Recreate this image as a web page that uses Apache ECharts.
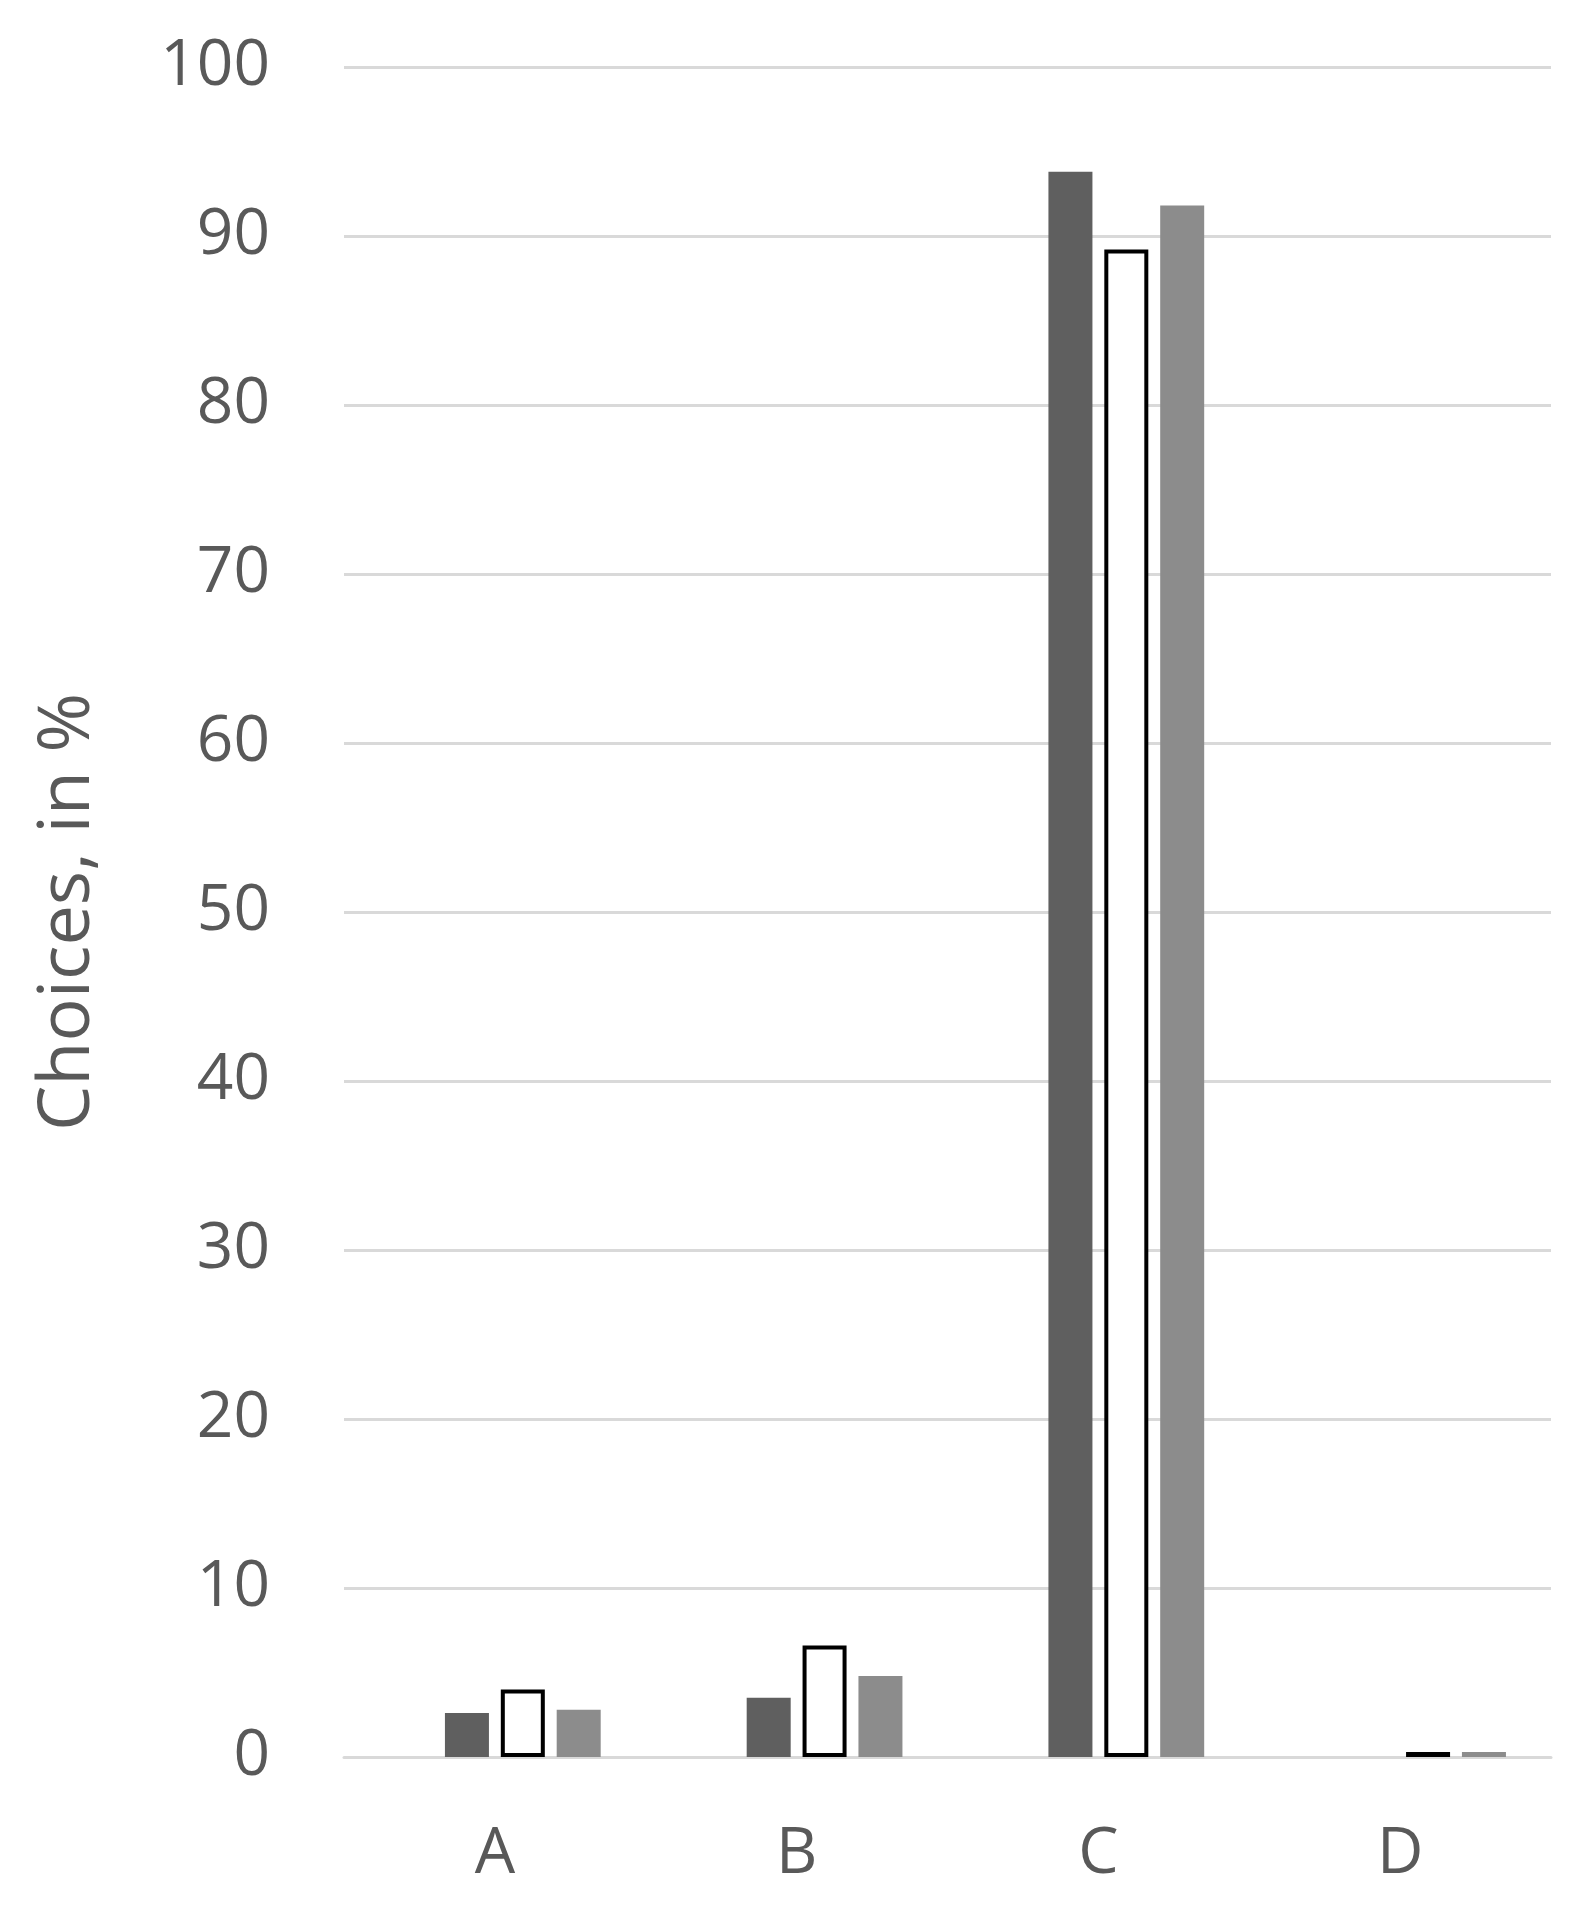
<!DOCTYPE html>
<html><head><meta charset="utf-8">
<script src="https://cdn.jsdelivr.net/npm/echarts@6/dist/echarts.min.js"></script>
<style>html,body{margin:0;padding:0;background:#fff}#c{width:1585px;height:1919px}</style>
</head><body><div id="c"></div>
<script>
const categories = ['A','B','C','D'];
const seriesEmpty = [null, null, null, null];
const seriesDark = [2.6, 3.5, 93.8, 0];
const seriesWhite = [4.0, 6.6, 89.2, 0.3];
const seriesGray = [2.8, 4.8, 91.8, 0.3];
const chart = echarts.init(document.getElementById('c'));
const font = 'Open Sans, Noto Sans, sans-serif';
chart.setOption({
  animation:false,
  grid:{left:344,right:34,top:67,bottom:162},
  xAxis:{type:'category',data:categories,
    axisLine:{lineStyle:{color:'#d9d9d9',width:3}},axisTick:{show:false},
    axisLabel:{color:'#595959',fontSize:64,fontFamily:font,margin:66}},
  yAxis:{type:'value',min:0,max:100,interval:10,
    name:'Choices, in %',nameLocation:'middle',nameGap:240,
    nameTextStyle:{color:'#595959',fontSize:72,fontFamily:font},
    axisLabel:{color:'#595959',fontSize:64,fontFamily:font,margin:74},
    splitLine:{lineStyle:{color:'#d9d9d9',width:3}}},
  series:[
    {type:'bar',data:seriesEmpty,barWidth:44,barGap:'27%'},
    {type:'bar',data:seriesDark,barWidth:44,barGap:'27%',itemStyle:{color:'#5f5f5f'}},
    {type:'bar',data:seriesWhite,barWidth:44,barGap:'27%',itemStyle:{color:'#fff',borderColor:'#000',borderWidth:4}},
    {type:'bar',data:seriesGray,barWidth:44,barGap:'27%',itemStyle:{color:'#8c8c8c'}}
  ]
});
</script></body></html>
